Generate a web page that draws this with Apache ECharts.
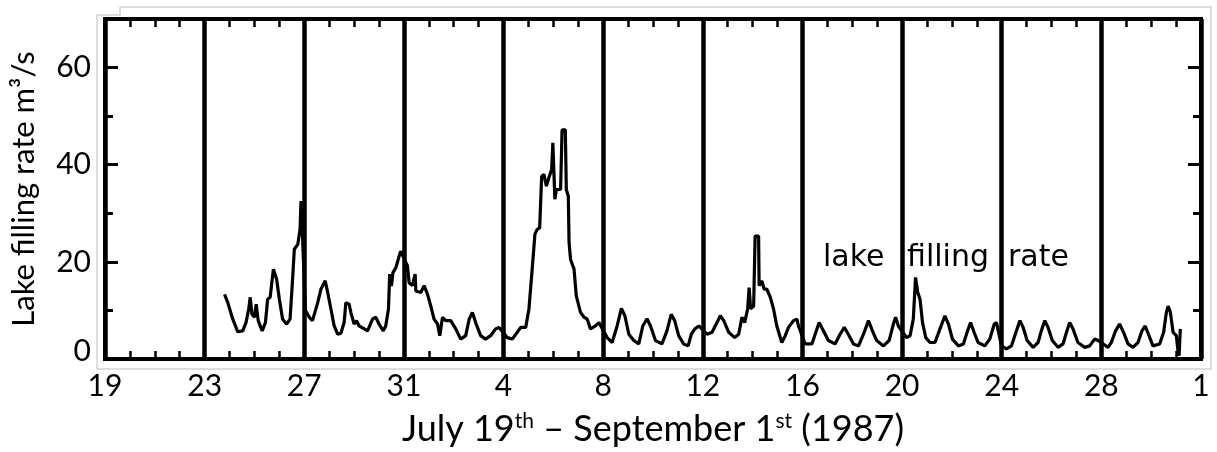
<!DOCTYPE html>
<html><head><meta charset="utf-8">
<script src="https://cdn.jsdelivr.net/npm/echarts@6/dist/echarts.min.js"></script>
<style>html,body{margin:0;padding:0;background:#fff}#c{width:1217px;height:452px}</style>
</head><body><div id="c"></div>
<script>
// x tick labels (every 4 days from July 19 to September 1)
const tickLabels = ['19','23','27','31','4','8','12','16','20','24','28','1'];
// days since July 19 (0) ... September 1 (44)
const days = [
4.80,4.93,5.13,5.33,5.53,5.66,5.77,5.83,5.90,6.00,6.07,6.15,6.31,6.44,6.53,6.63,6.76,6.89,7.00,7.13,7.29,7.43,7.53,7.60,7.74,7.83,7.87,7.92,7.97,8.05,
8.20,8.33,8.54,8.67,8.84,8.94,9.07,9.20,9.34,9.47,9.60,9.67,9.80,9.87,10.00,10.10,10.20,10.41,10.54,10.74,10.87,11.00,11.17,11.27,11.38,11.43,11.50,11.56,11.68,11.81,11.87,
12.14,12.21,12.34,12.45,12.48,12.68,12.81,12.95,13.08,13.21,13.35,13.44,13.55,13.68,13.88,14.08,14.28,14.48,14.62,14.75,14.88,15.08,15.28,15.48,15.68,15.82,
16.15,16.35,16.55,16.69,16.89,17.02,17.15,17.26,17.35,17.45,17.53,17.62,17.72,17.82,17.93,17.98,18.04,18.06,18.12,18.29,18.35,18.48,18.52,18.60,18.63,18.69,18.83,18.92,19.09,19.23,19.36,19.49,19.69,19.83,
20.16,20.36,20.56,20.73,20.87,21.03,21.23,21.43,21.59,21.76,21.90,22.10,22.36,22.56,22.73,22.87,23.03,23.23,23.41,23.54,23.68,23.84,
24.17,24.37,24.57,24.70,24.84,25.04,25.28,25.44,25.57,25.68,25.80,25.86,25.92,26.04,26.10,26.24,26.26,26.37,26.46,26.57,26.71,26.84,26.97,27.17,27.31,27.44,27.64,27.78,27.84,
28.11,28.38,28.51,28.67,28.84,29.04,29.31,29.51,29.68,29.84,30.05,30.25,30.45,30.65,30.81,30.98,31.25,31.48,31.65,31.74,31.85,
32.18,32.32,32.45,32.54,32.63,32.72,32.82,32.95,33.12,33.32,33.52,33.72,33.86,34.02,34.26,34.46,34.63,34.75,34.89,35.05,35.32,35.52,35.70,35.79,
35.99,36.19,36.39,36.57,36.73,36.86,37.02,37.26,37.46,37.59,37.73,37.86,38.03,38.26,38.46,38.60,38.73,38.86,39.06,39.33,39.53,39.73,39.87,
40.27,40.40,40.57,40.73,40.89,41.07,41.27,41.47,41.63,41.76,41.89,42.07,42.34,42.50,42.61,42.68,42.77,42.88,43.01,43.08,43.12,43.17
];
// lake filling rate, m3/s
const rate = [
13.3,11.6,8.2,5.6,5.8,7.5,10.3,12.7,9.2,8.6,11.3,7.9,5.8,7.5,12.3,12.7,18.5,16.4,12.3,8.2,7.2,8.2,16.4,22.6,23.6,26.7,32.5,32.5,20.0,10.0,
8.6,7.9,11.6,14.4,16.1,13.7,10.3,6.8,5.1,5.3,7.5,11.6,11.3,9.6,7.2,7.9,6.8,6.2,5.8,8.2,8.6,7.2,5.8,6.8,10.3,17.5,15.0,17.8,18.8,21.2,22.2,
19.2,15.7,15.1,17.5,14.0,13.7,15.1,13.3,10.9,8.2,7.2,4.8,8.6,7.9,7.9,6.2,4.1,4.8,8.2,9.6,7.5,4.8,4.1,4.8,6.2,6.5,
4.4,4.1,5.5,6.5,6.5,10.3,18.5,25.7,26.7,27.0,37.6,38.0,35.6,37.3,39.0,44.5,44.5,32.9,34.9,34.9,47.2,47.2,34.9,33.5,24.0,20.5,18.5,13.0,9.6,8.6,8.2,6.2,6.8,7.5,
4.4,3.4,6.8,10.4,8.9,5.1,3.8,3.1,6.8,8.3,6.8,3.8,3.1,5.8,9.2,7.9,4.8,3.1,2.7,5.1,6.2,6.8,
5.1,5.5,7.5,8.9,7.9,5.5,4.4,5.1,8.6,7.5,10.3,14.7,10.3,10.9,25.3,25.3,15.1,16.1,14.4,14.4,12.7,10.3,6.8,3.4,4.8,6.5,7.9,8.2,6.8,
3.1,3.1,5.1,7.5,5.8,3.8,3.1,5.1,6.5,5.1,3.1,2.7,5.1,7.9,5.8,3.8,2.7,3.8,7.2,8.6,6.8,
4.4,4.8,8.2,16.8,13.7,12.3,7.5,4.4,3.4,3.4,6.2,8.9,7.2,4.1,2.7,3.1,5.8,7.5,5.5,3.4,2.7,4.1,7.2,7.5,
2.7,2.1,2.7,5.5,7.9,6.5,3.8,2.4,3.4,5.8,7.9,6.5,3.8,2.4,3.1,5.5,7.5,6.2,3.4,2.4,2.7,4.1,3.8,
2.4,3.4,5.8,7.2,5.5,3.1,2.4,3.4,5.8,6.8,5.1,2.7,3.1,5.5,9.6,10.9,9.6,5.5,4.8,1.4,0.7,6.2
];
const yTitle = 'Lake filling rate m³/s';
const annotationWords = ['lake', 'filling', 'rate'];

const FONT = 'Lato';
const chart = echarts.init(document.getElementById('c'));
const data = days.map((d, i) => [d, rate[i]]);
const tickStyle = {color: '#000', width: 3};
const baseX = {type: 'value', min: 0, max: 44, interval: 4, axisLine: {show: false, onZero: false}};
const baseY = {type: 'value', min: 0, max: 70, axisLine: {show: false, onZero: false}, splitLine: {show: false}};
chart.setOption({
  animation: false,
  backgroundColor: '#fff',
  grid: {left: 104, right: 16, top: 19, bottom: 92, show: true, borderColor: '#000', borderWidth: 4},
  xAxis: [
    Object.assign({}, baseX, {
      position: 'bottom',
      axisTick: {show: true, inside: true, length: 8, lineStyle: tickStyle},
      minorTick: {show: true, splitNumber: 4, length: 8, lineStyle: {color: '#000', width: 2.5}},
      splitLine: {show: true, lineStyle: {color: '#000', width: 4.5}},
      axisLabel: {formatter: v => tickLabels[Math.round(v / 4)], fontFamily: FONT, fontSize: 30, color: '#000', margin: 12},
      name: '{a|July 19}{s|th}{a| – September 1}{s|st}{a| (1987)}',
      nameLocation: 'middle', nameGap: 52,
      nameTextStyle: {rich: {
        a: {fontFamily: FONT, fontSize: 36, color: '#000'},
        s: {fontFamily: FONT, fontSize: 21, color: '#000', verticalAlign: 'top'}
      }}
    }),
    Object.assign({}, baseX, {
      position: 'top',
      axisTick: {show: true, inside: true, length: 8, lineStyle: tickStyle},
      minorTick: {show: true, splitNumber: 4, length: 8, lineStyle: {color: '#000', width: 2.5}},
      splitLine: {show: false},
      axisLabel: {show: false}
    })
  ],
  yAxis: [
    Object.assign({}, baseY, {
      position: 'left', interval: 20,
      axisTick: {show: true, inside: true, length: 13, lineStyle: tickStyle},
      axisLabel: {showMaxLabel: false, fontFamily: FONT, fontSize: 30, color: '#000', margin: 14,
        formatter: v => v === 0 ? '{z|0}' : String(v),
        rich: {z: {fontFamily: FONT, fontSize: 30, color: '#000', padding: [0, 0, 16, 0]}}},
      name: yTitle, nameLocation: 'middle', nameGap: 66,
      nameTextStyle: {fontFamily: FONT, fontSize: 31, color: '#000'}
    }),
    Object.assign({}, baseY, {
      position: 'right', interval: 20,
      axisTick: {show: true, inside: true, length: 13, lineStyle: tickStyle},
      axisLabel: {show: false}
    }),
    Object.assign({}, baseY, {
      position: 'right', interval: 10,
      axisTick: {show: true, inside: true, length: 8, lineStyle: tickStyle},
      axisLabel: {show: false}
    }),
    Object.assign({}, baseY, {
      position: 'left', interval: 10,
      axisTick: {show: true, inside: true, length: 8, lineStyle: tickStyle},
      axisLabel: {show: false}
    })
  ],
  graphic: [
    {type: 'polyline', silent: true, z: 0,
     shape: {points: [[120, 7], [1211, 7], [1211, 369], [97, 369], [97, 15], [120, 15], [120, 7]]},
     style: {stroke: '#d2d2d2', lineWidth: 1.5, fill: null}},
    {type: 'text', x: 823, y: 258, z: 10, style: {text: annotationWords[0], font: '30px "DejaVu Sans"', fill: '#000', verticalAlign: 'middle'}},
    {type: 'text', x: 907, y: 258, z: 10, style: {text: annotationWords[1], font: '30px "DejaVu Sans"', fill: '#000', verticalAlign: 'middle'}},
    {type: 'text', x: 1008, y: 258, z: 10, style: {text: annotationWords[2], font: '30px "DejaVu Sans"', fill: '#000', verticalAlign: 'middle'}}
  ],
  series: [{
    type: 'line', data: data, xAxisIndex: 0, yAxisIndex: 0,
    showSymbol: false, symbol: 'none', z: 5,
    lineStyle: {color: '#000', width: 3.2}
  }]
});
</script>
</body></html>
